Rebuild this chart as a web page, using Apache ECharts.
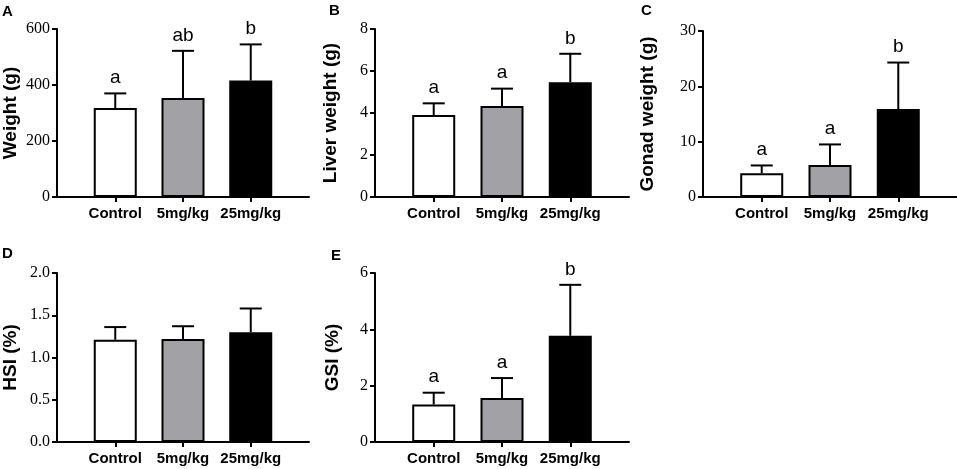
<!DOCTYPE html>
<html>
<head>
<meta charset="utf-8">
<script src="https://cdn.jsdelivr.net/npm/echarts@6/dist/echarts.min.js"></script>
<style>
  html, body { margin: 0; padding: 0; background: #fff; }
  #chart { width: 957px; height: 469px; }
</style>
</head>
<body>
<div id="chart"></div>
<script>
// groups on the x axis
const groups = ['Control', '5mg/kg', '25mg/kg'];

// A: body weight
const weightMean = [318, 354, 416];
const weightSd = [52, 168, 129];
const weightLetters = ['a', 'ab', 'b'];

// B: liver weight
const liverMean = [3.9, 4.33, 5.47];
const liverSd = [0.56, 0.83, 1.35];
const liverLetters = ['a', 'a', 'b'];

// C: gonad weight
const gonadMean = [4.3, 5.8, 15.9];
const gonadSd = [1.4, 3.7, 8.4];
const gonadLetters = ['a', 'a', 'b'];

// D: HSI
const hsiMean = [1.21, 1.22, 1.30];
const hsiSd = [0.15, 0.15, 0.28];
const hsiLetters = ['', '', ''];

// E: GSI
const gsiMean = [1.33, 1.56, 3.77];
const gsiSd = [0.42, 0.71, 1.81];
const gsiLetters = ['a', 'a', 'b'];

var chart = echarts.init(document.getElementById('chart'));

const barColors = ['#ffffff', '#a2a2a6', '#000000'];
const numFont = 'Liberation Serif';
const sansFont = 'Liberation Sans';

// one entry per panel: data + layout
const panels = [
  {tag: 'A', name: 'Weight (g)', mean: weightMean, sd: weightSd, letters: weightLetters, max: 600, interval: 200, dec: 0,
   left: 55, top: 29, height: 168, nameGap: 37, tagX: 2, tagY: 4},
  {tag: 'B', name: 'Liver weight (g)', mean: liverMean, sd: liverSd, letters: liverLetters, max: 8, interval: 2, dec: 0,
   left: 375, top: 29, height: 168, nameGap: 35, tagX: 329, tagY: 3},
  {tag: 'C', name: 'Gonad weight (g)', mean: gonadMean, sd: gonadSd, letters: gonadLetters, max: 30, interval: 10, dec: 0,
   left: 703, top: 31, height: 166, nameGap: 46, tagX: 641, tagY: 3},
  {tag: 'D', name: 'HSI (%)', mean: hsiMean, sd: hsiSd, letters: hsiLetters, max: 2, interval: 0.5, dec: 1,
   left: 55, top: 273, height: 169, nameGap: 37, tagX: 2, tagY: 246},
  {tag: 'E', name: 'GSI (%)', mean: gsiMean, sd: gsiSd, letters: gsiLetters, max: 6, interval: 2, dec: 0,
   left: 375, top: 273, height: 169, nameGap: 33, tagX: 331, tagY: 248}
];

const grid = [], xAxis = [], yAxis = [], series = [], title = [];

panels.forEach((p, i) => {
  grid.push({left: p.left, top: p.top, width: 254, height: p.height});

  xAxis.push({
    type: 'value',
    gridIndex: i,
    min: -0.86,
    max: 2.86,
    splitLine: {show: false},
    axisLine: {onZero: false, lineStyle: {color: '#000', width: 2}},
    axisTick: {customValues: [0, 1, 2], length: 5, lineStyle: {color: '#000', width: 2}},
    axisLabel: {
      customValues: [0, 1, 2],
      formatter: v => groups[Math.round(v)],
      color: '#000',
      fontFamily: sansFont,
      fontWeight: 'bold',
      fontSize: 15,
      margin: 9
    }
  });

  yAxis.push({
    type: 'value',
    gridIndex: i,
    min: 0,
    max: p.max,
    interval: p.interval,
    name: p.name,
    nameLocation: 'middle',
    nameGap: p.nameGap,
    nameTextStyle: {color: '#000', fontFamily: sansFont, fontWeight: 'bold', fontSize: 19},
    splitLine: {show: false},
    axisLine: {show: true, onZero: false, lineStyle: {color: '#000', width: 2}},
    axisTick: {show: true, length: 5, lineStyle: {color: '#000', width: 2}},
    axisLabel: {
      color: '#000',
      fontFamily: numFont,
      fontSize: 16,
      margin: 7,
      formatter: v => v.toFixed(p.dec)
    }
  });

  series.push({
    type: 'bar',
    xAxisIndex: i,
    yAxisIndex: i,
    barWidth: 43,
    data: p.mean.map((m, k) => ({
      value: [k, m],
      itemStyle: {color: barColors[k], borderColor: '#000', borderWidth: 2}
    })),
    silent: true
  });

  // error bars (upper only) + significance letters
  series.push({
    type: 'custom',
    xAxisIndex: i,
    yAxisIndex: i,
    z: 3,
    silent: true,
    data: p.mean.map((m, k) => [k, m, p.sd[k]]),
    renderItem: function (params, api) {
      const x = api.value(0), m = api.value(1), s = api.value(2);
      const base = api.coord([x, m]);
      const top = api.coord([x, m + s]);
      const style = {stroke: '#000', lineWidth: 2};
      return {
        type: 'group',
        children: [
          {type: 'line', shape: {x1: base[0], y1: base[1], x2: top[0], y2: top[1]}, style: style},
          {type: 'line', shape: {x1: top[0] - 11, y1: top[1], x2: top[0] + 11, y2: top[1]}, style: style},
          {type: 'text', x: top[0], y: top[1] - 6,
           style: {text: p.letters[params.dataIndex], fill: '#000', fontFamily: sansFont, fontSize: 19,
                   align: 'center', verticalAlign: 'bottom'}}
        ]
      };
    }
  });

  title.push({
    text: p.tag,
    left: p.tagX,
    top: p.tagY,
    padding: 0,
    textStyle: {fontFamily: sansFont, fontWeight: 'bold', fontSize: 15, color: '#000'}
  });
});

chart.setOption({
  animation: false,
  title: title,
  grid: grid,
  xAxis: xAxis,
  yAxis: yAxis,
  series: series
});
</script>
</body>
</html>
